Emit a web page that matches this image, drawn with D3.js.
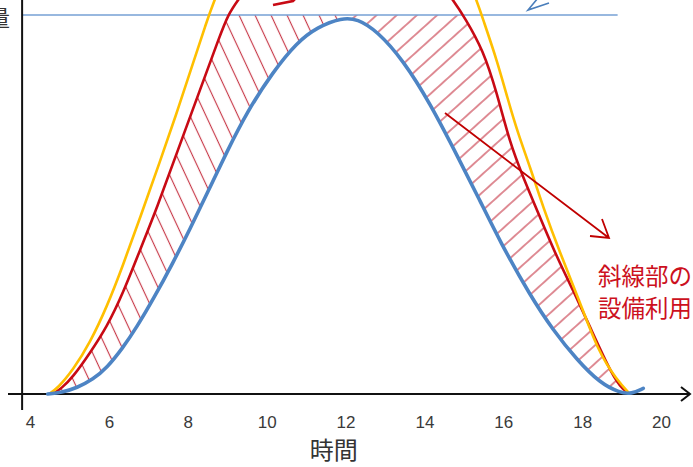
<!DOCTYPE html>
<html><head><meta charset="utf-8">
<script src="https://cdn.jsdelivr.net/npm/d3@7"></script>
<style>html,body{margin:0;padding:0;background:#fff;overflow:hidden}</style>
</head><body>
<svg id="chart" width="693" height="467"></svg>
<script>
// ---- data (hour, value; 100 = equipment capacity line) ----
const xTicks = [4, 6, 8, 10, 12, 14, 16, 18, 20];
const capValue = 100;
const blueCurve = [[4.45,0],[4.8,0.4],[5.19,1.6],[5.6,3.9],[5.95,6.9],[6.35,12.1],[6.71,17.7],[7.12,24.9],[7.63,34.7],[8.06,43.6],[8.49,52.9],[9.0,64.1],[9.5,74.4],[10.16,85.0],[10.77,92.8],[11.28,96.8],[11.91,99.3],[12.3,99.0],[12.8,95.8],[13.46,88.1],[14.14,76.8],[14.9,61.5],[15.41,51.0],[15.92,40.2],[16.68,26.0],[17.26,16.9],[17.87,9.0],[18.45,2.9],[18.96,0.3],[19.25,0],[19.55,1.5]];
const redCurve = [[4.58,0],[4.8,1.5],[5.09,4.5],[5.52,10.8],[5.95,17.7],[6.36,26.6],[6.79,38.0],[7.22,49.1],[7.75,64.4],[8.31,80.2],[8.82,94.7],[9.02,100],[9.27,104],[10,114],[11,120],[12,122],[13,120],[14,114],[14.73,104],[15.03,99.2],[15.49,90.8],[15.84,79.4],[16.17,66.2],[16.5,57.3],[16.93,46.7],[17.36,36.1],[17.77,27.4],[18.2,17.7],[18.78,4.5],[19.05,1],[19.21,0]];
const yellowCurve = [[4.48,0],[4.7,1.5],[5.09,6.3],[5.52,13.5],[5.95,23.0],[6.36,34.0],[6.79,46.5],[7.3,61.5],[7.7,73.5],[8.06,85.0],[8.49,98.5],[8.61,102.3],[9.5,125],[12,135],[14.5,125],[15.33,104],[15.49,98.7],[15.84,88.1],[16.12,77.6],[16.37,68.9],[16.68,59.9],[17.01,49.3],[17.44,37.2],[17.9,25.5],[18.4,11.3],[18.88,3.7],[19.21,0]];
const xTitle = "時間";
const yTitleTail = "量";
const noteLines = ["斜線部の", "設備利用"];

// ---- layout ----
const W = 693, H = 467;
const svg = d3.select("#chart");
const x = d3.scaleLinear().domain([4, 20]).range([30, 661]);
const y = d3.scaleLinear().domain([0, 100]).range([394, 15]);
const y0 = y(0);
const axisX = x(3.8);

const line = d3.line().x(d => x(d[0])).y(d => y(d[1])).curve(d3.curveBasis);
const area = d3.area().x(d => x(d[0])).y0(y0).y1(d => y(d[1])).curve(d3.curveBasis);

const defs = svg.append("defs");
function hatch(id, angle, gap) {
  const p = defs.append("pattern").attr("id", id).attr("patternUnits", "userSpaceOnUse")
    .attr("width", gap).attr("height", gap).attr("patternTransform", `rotate(${angle})`);
  p.append("line").attr("x1", -1).attr("x2", gap + 1).attr("y1", gap / 2).attr("y2", gap / 2)
    .attr("stroke", "#c83a4a").attr("stroke-width", 1.15);
}
hatch("hatchL", 65, 14.5);
hatch("hatchR", -42, 13.5);

defs.append("clipPath").attr("id", "clipRed").append("path").attr("d", area(redCurve));
defs.append("clipPath").attr("id", "clipCap").append("rect")
  .attr("x", 0).attr("y", y(capValue)).attr("width", W).attr("height", y0 - y(capValue));
const mask = defs.append("mask").attr("id", "noBlue").attr("maskUnits", "userSpaceOnUse")
  .attr("x", 0).attr("y", 0).attr("width", W).attr("height", H);
mask.append("rect").attr("width", W).attr("height", H).attr("fill", "#fff");
mask.append("path").attr("d", area(blueCurve)).attr("fill", "#000");

// hatched region: between blue curve and min(red curve, capacity)
const gH = svg.append("g").attr("clip-path", "url(#clipCap)")
  .append("g").attr("clip-path", "url(#clipRed)")
  .append("g").attr("mask", "url(#noBlue)");
gH.append("rect").attr("x", x(4)).attr("y", 0).attr("width", x(12) - x(4)).attr("height", H).attr("fill", "url(#hatchL)");
gH.append("rect").attr("x", x(12)).attr("y", 0).attr("width", x(20) - x(12)).attr("height", H).attr("fill", "url(#hatchR)");

// capacity line
svg.append("line").attr("x1", axisX).attr("x2", x(18.9)).attr("y1", y(capValue)).attr("y2", y(capValue))
  .attr("stroke", "#76a0d4").attr("stroke-width", 1.6);

// axes
svg.append("line").attr("x1", axisX).attr("x2", axisX).attr("y1", 0).attr("y2", 410)
  .attr("stroke", "#111").attr("stroke-width", 2);
svg.append("line").attr("x1", 8).attr("x2", 690).attr("y1", y0).attr("y2", y0)
  .attr("stroke", "#111").attr("stroke-width", 2);
svg.append("path").attr("d", `M681,${y0 - 7}L690,${y0}L681,${y0 + 7}`)
  .attr("fill", "none").attr("stroke", "#111").attr("stroke-width", 2);

const ax = svg.append("g").attr("transform", `translate(0,${y0})`)
  .call(d3.axisBottom(x).tickValues(xTicks).tickSize(0).tickPadding(22).tickFormat(d3.format("d")));
ax.select(".domain").remove();
ax.selectAll("text").attr("font-family", "Liberation Sans, Arial, sans-serif")
  .attr("font-size", 17).attr("fill", "#3a3a3a");

// curves
svg.append("path").attr("d", line(redCurve)).attr("fill", "none").attr("stroke", "#c80a14").attr("stroke-width", 2.6);
svg.append("path").attr("d", line(yellowCurve)).attr("fill", "none").attr("stroke", "#ffbf00").attr("stroke-width", 2.6);
svg.append("path").attr("d", line(blueCurve)).attr("fill", "none").attr("stroke", "#4d84c4").attr("stroke-width", 3.6)
  .attr("stroke-linecap", "round");

// annotations
svg.append("path").attr("d", "M445,113L609,238M590,236L609,238L602,219")
  .attr("fill", "none").attr("stroke", "#c00000").attr("stroke-width", 1.8);
svg.append("path").attr("d", "M273,5L293,1L297,-3")
  .attr("fill", "none").attr("stroke", "#c80a14").attr("stroke-width", 2.6);
svg.append("path").attr("d", "M549,3L528,10L538,-2")
  .attr("fill", "none").attr("stroke", "#4a7ebb").attr("stroke-width", 1.6);

svg.selectAll("text.note").data(noteLines).join("text").attr("class", "note")
  .attr("x", 598).attr("y", (d, i) => 285 + i * 32).text(d => d)
  .attr("font-family", "Noto Sans CJK JP, sans-serif").attr("font-size", 23.5).attr("fill", "#cc1020");

svg.append("text").attr("x", x(11.7)).attr("y", 459).attr("text-anchor", "middle").text(xTitle)
  .attr("font-family", "Noto Sans CJK JP, sans-serif").attr("font-size", 24).attr("fill", "#333");
svg.append("text").attr("x", -12).attr("y", 26).text(yTitleTail)
  .attr("font-family", "Noto Sans CJK JP, sans-serif").attr("font-size", 22).attr("fill", "#333");
</script>
</body></html>
